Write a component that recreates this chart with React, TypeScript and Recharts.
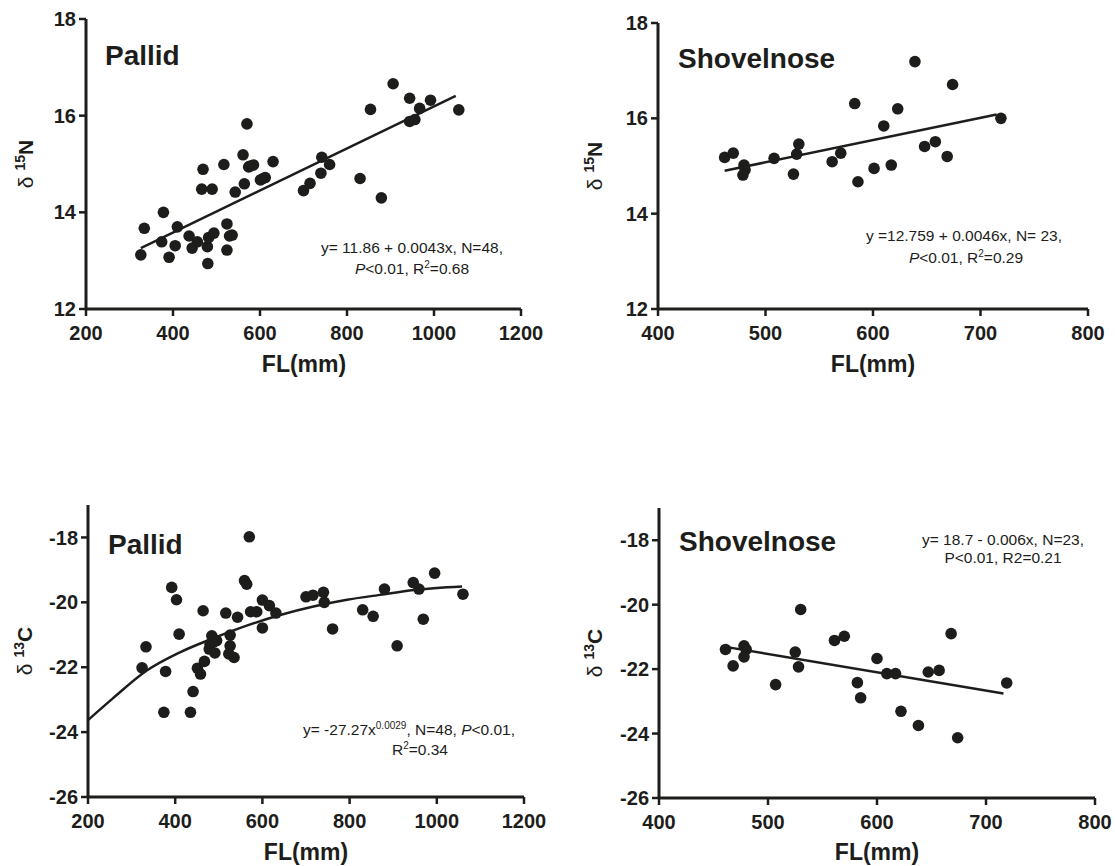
import React from "react";
import { ScatterChart, Scatter, XAxis, YAxis } from "recharts";

const FONT = '"Liberation Sans", Arial, Helvetica, sans-serif';
const INK = "#1d1d1b";

// Pallid, d15N vs fork length
const pallidN_FL = [326, 334, 378, 374, 391, 405, 410, 437, 444, 456, 469, 466, 490, 479, 482, 494, 480, 517, 524, 524, 530, 536, 543, 561, 564, 570, 574, 578, 585, 601, 607, 612, 630, 700, 715, 740, 742, 760, 830, 854, 879, 906, 944, 944, 956, 967, 992, 1057];
const pallidN_val = [13.12, 13.67, 14.0, 13.39, 13.07, 13.31, 13.7, 13.51, 13.26, 13.39, 14.89, 14.48, 14.48, 13.29, 13.48, 13.57, 12.94, 14.99, 13.76, 13.22, 13.51, 13.53, 14.42, 15.19, 14.59, 15.83, 14.94, 14.96, 14.98, 14.67, 14.7, 14.72, 15.05, 14.45, 14.6, 14.81, 15.14, 14.99, 14.7, 16.13, 14.3, 16.66, 16.36, 15.88, 15.92, 16.15, 16.32, 16.12];
const pallidN_fitFL = [326, 1050];
const pallidN_fitVal = [13.26, 16.41];

// Shovelnose, d15N
const shovelN_FL = [462, 470, 480, 481, 479, 508, 526, 529, 531, 562, 570, 583, 586, 601, 610, 617, 623, 639, 648, 658, 669, 674, 719];
const shovelN_val = [15.18, 15.27, 15.02, 14.92, 14.81, 15.16, 14.83, 15.25, 15.46, 15.09, 15.27, 16.31, 14.67, 14.95, 15.84, 15.02, 16.2, 17.19, 15.41, 15.51, 15.2, 16.71, 16.0];
const shovelN_fitFL = [462, 715];
const shovelN_fitVal = [14.9, 16.08];

// Pallid, d13C
const pallidC_FL = [324, 333, 374, 378, 392, 403, 409, 435, 441, 451, 458, 467, 464, 484, 480, 478, 491, 495, 487, 516, 526, 526, 523, 535, 543, 559, 564, 570, 573, 587, 600, 600, 616, 631, 700, 716, 740, 742, 761, 830, 854, 880, 909, 946, 959, 969, 995, 1060];
const pallidC_val = [-22.02, -21.37, -23.39, -22.13, -19.54, -19.92, -20.98, -23.39, -22.75, -22.03, -22.21, -21.82, -20.26, -21.03, -21.29, -21.44, -21.56, -21.18, -21.23, -20.33, -21.01, -21.34, -21.59, -21.7, -20.46, -19.33, -19.44, -17.98, -20.29, -20.29, -19.93, -20.79, -20.1, -20.33, -19.83, -19.78, -19.69, -20.0, -20.82, -20.23, -20.43, -19.59, -21.34, -19.39, -19.59, -20.52, -19.1, -19.75];
const pallidC_fitFL = [200, 257, 334, 411, 487, 564, 641, 717, 794, 870, 947, 1058];
const pallidC_fitVal = [-23.63, -22.96, -22.11, -21.54, -21.11, -20.72, -20.39, -20.13, -19.92, -19.77, -19.62, -19.51];

// Shovelnose, d13C
const shovelC_FL = [461, 468, 478, 480, 478, 507, 525, 528, 530, 561, 570, 582, 585, 600, 609, 617, 622, 638, 647, 657, 668, 674, 719];
const shovelC_val = [-21.39, -21.9, -21.28, -21.39, -21.62, -22.48, -21.47, -21.93, -20.15, -21.11, -20.98, -22.42, -22.89, -21.67, -22.14, -22.14, -23.31, -23.75, -22.09, -22.04, -20.9, -24.13, -22.43];
const shovelC_fitFL = [461, 716];
const shovelC_fitVal = [-21.31, -22.76];

const ticksFL1 = [200, 400, 600, 800, 1000, 1200];
const ticksFL2 = [400, 500, 600, 700, 800];
const ticksN = [12, 14, 16, 18];
const ticksC = [-26, -24, -22, -20, -18];

const zip = (xs: number[], ys: number[]) => xs.map((x, i) => ({ x, y: ys[i] }));

const Dot = (props: any) => <circle cx={props.cx} cy={props.cy} r={5.8} fill={INK} />;
const NoDot = () => <g />;

const XTick = (props: any) => (
  <text x={props.x} y={props.y} dy="0.71em" textAnchor="middle" fontSize={20} fontWeight={700} fill={INK} fontFamily={FONT}>
    {props.payload.value}
  </text>
);
const YTick = (props: any) => (
  <text x={props.x} y={props.y} dy="0.355em" textAnchor="end" fontSize={20} fontWeight={700} fill={INK} fontFamily={FONT}>
    {props.payload.value}
  </text>
);

type PanelProps = {
  left: number;
  top: number;
  width: number;
  height: number;
  margin: { top: number; right: number; bottom: number; left: number };
  yWidth: number;
  xHeight: number;
  xDomain: [number, number];
  xTicks: number[];
  yDomain: [number, number];
  yTicks: number[];
  points: { x: number; y: number }[];
  fit: { x: number; y: number }[];
  curve?: boolean;
};

function Panel(p: PanelProps) {
  return (
    <div style={{ position: "absolute", left: p.left, top: p.top }}>
      <ScatterChart width={p.width} height={p.height} margin={p.margin}>
        <XAxis
          type="number"
          dataKey="x"
          domain={p.xDomain}
          ticks={p.xTicks}
          height={p.xHeight}
          tickSize={7}
          tickMargin={10}
          axisLine={{ stroke: INK, strokeWidth: 3 }}
          tickLine={{ stroke: INK, strokeWidth: 2.5 }}
          tick={XTick}
          interval={0}
        />
        <YAxis
          type="number"
          dataKey="y"
          domain={p.yDomain}
          ticks={p.yTicks}
          width={p.yWidth}
          tickSize={7}
          tickMargin={3}
          axisLine={{ stroke: INK, strokeWidth: 3 }}
          tickLine={{ stroke: INK, strokeWidth: 2.5 }}
          tick={YTick}
          interval={0}
        />
        <Scatter
          data={p.fit}
          shape={NoDot}
          line={{ stroke: INK, strokeWidth: 2.5 }}
          lineJointType={p.curve ? "monotoneX" : "linear"}
          isAnimationActive={false}
        />
        <Scatter data={p.points} shape={Dot} isAnimationActive={false} />
      </ScatterChart>
    </div>
  );
}

const Sup = ({ children }: { children: string }) => (
  <tspan fontSize={10} dy={-6}>
    {children}
  </tspan>
);

function YLabel({ x, y, iso, el }: { x: number; y: number; iso: string; el: string }) {
  return (
    <text transform={`translate(${x},${y}) rotate(-90)`} textAnchor="middle" fontSize={21} fill={INK}>
      <tspan>δ </tspan>
      <tspan fontWeight={700} fontSize={14} dy={-8}>
        {iso}
      </tspan>
      <tspan fontWeight={700} dy={8}>
        {el}
      </tspan>
    </text>
  );
}

export default function App() {
  const title = { fontSize: 28, fontWeight: 700, fill: INK };
  const eq = { fontSize: 15.5, fill: INK, textAnchor: "middle" as const };
  const axTitle = { fontSize: 23, fontWeight: 700, fill: INK, textAnchor: "middle" as const };
  return (
    <div style={{ position: "absolute", left: 0, top: 0, width: 1115, height: 866, background: "#fff", fontFamily: FONT }}>
      <Panel
        left={0}
        top={0}
        width={560}
        height={400}
        margin={{ top: 19, right: 39, bottom: 21, left: 0 }}
        yWidth={86}
        xHeight={70}
        xDomain={[200, 1200]}
        xTicks={ticksFL1}
        yDomain={[12, 18]}
        yTicks={ticksN}
        points={zip(pallidN_FL, pallidN_val)}
        fit={zip(pallidN_fitFL, pallidN_fitVal)}
      />
      <Panel
        left={560}
        top={0}
        width={555}
        height={400}
        margin={{ top: 23, right: 27, bottom: 21, left: 0 }}
        yWidth={98}
        xHeight={70}
        xDomain={[400, 800]}
        xTicks={ticksFL2}
        yDomain={[12, 18]}
        yTicks={ticksN}
        points={zip(shovelN_FL, shovelN_val)}
        fit={zip(shovelN_fitFL, shovelN_fitVal)}
      />
      <Panel
        left={0}
        top={440}
        width={560}
        height={426}
        margin={{ top: 65, right: 36, bottom: 0, left: 0 }}
        yWidth={88}
        xHeight={69}
        xDomain={[200, 1200]}
        xTicks={ticksFL1}
        yDomain={[-26, -17]}
        yTicks={ticksC}
        points={zip(pallidC_FL, pallidC_val)}
        fit={zip(pallidC_fitFL, pallidC_fitVal)}
        curve
      />
      <Panel
        left={560}
        top={440}
        width={555}
        height={426}
        margin={{ top: 68, right: 20, bottom: 0, left: 0 }}
        yWidth={99}
        xHeight={68}
        xDomain={[400, 800]}
        xTicks={ticksFL2}
        yDomain={[-26, -17]}
        yTicks={ticksC}
        points={zip(shovelC_FL, shovelC_val)}
        fit={zip(shovelC_fitFL, shovelC_fitVal)}
      />

      {/* titles, equations and axis titles */}
      <svg width={1115} height={866} style={{ position: "absolute", left: 0, top: 0, pointerEvents: "none", fontFamily: FONT }}>
        <text x={105} y={65} {...title}>Pallid</text>
        <text x={678} y={68} {...title}>Shovelnose</text>
        <text x={108} y={554} {...title}>Pallid</text>
        <text x={679} y={551} {...title}>Shovelnose</text>

        <text x={412} y={253} {...eq}>y= 11.86 + 0.0043x, N=48,</text>
        <text x={412} y={274} {...eq}>
          <tspan fontStyle="italic">P</tspan>&lt;0.01, R<Sup>2</Sup><tspan dy={6}>=0.68</tspan>
        </text>

        <text x={964} y={241} {...eq}>y =12.759 + 0.0046x,  N= 23,</text>
        <text x={966} y={263} {...eq}>
          <tspan fontStyle="italic">P</tspan>&lt;0.01, R<Sup>2</Sup><tspan dy={6}>=0.29</tspan>
        </text>

        <text x={409} y={735} {...eq}>
          y= -27.27x<Sup>0.0029</Sup><tspan dy={6}>, N=48, </tspan><tspan fontStyle="italic">P</tspan>&lt;0.01,
        </text>
        <text x={420} y={755} {...eq}>
          R<Sup>2</Sup><tspan dy={6}>=0.34</tspan>
        </text>

        <text x={1003} y={545} {...eq}>y= 18.7 - 0.006x, N=23,</text>
        <text x={1003} y={563} {...eq}>P&lt;0.01, R2=0.21</text>

        <text x={304} y={372} {...axTitle}>FL(mm)</text>
        <text x={873} y={372} {...axTitle}>FL(mm)</text>
        <text x={306} y={860} {...axTitle}>FL(mm)</text>
        <text x={877} y={860} {...axTitle}>FL(mm)</text>

        <YLabel x={33} y={164} iso="15" el="N" />
        <YLabel x={602} y={166} iso="15" el="N" />
        <YLabel x={32} y={651} iso="13" el="C" />
        <YLabel x={602} y={653} iso="13" el="C" />
      </svg>
    </div>
  );
}
